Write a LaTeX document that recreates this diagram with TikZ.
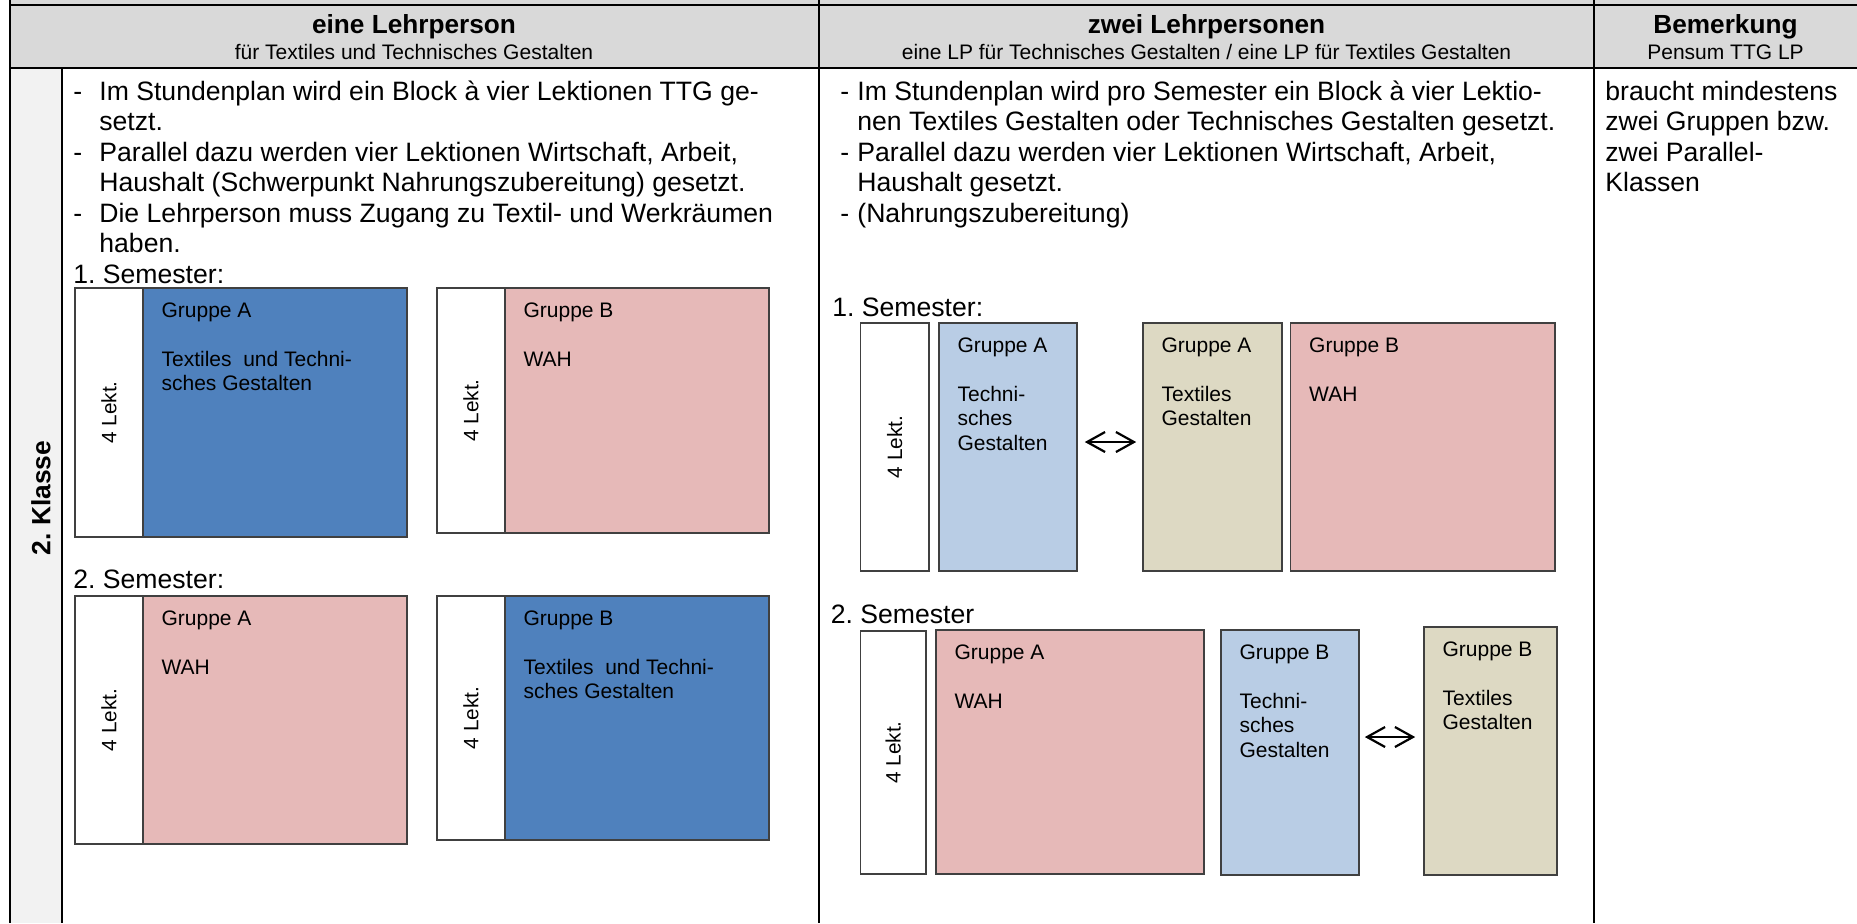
\documentclass[tikz,border=0pt]{standalone}
\usepackage{fontspec}
\setmainfont{Liberation Sans}
\usepackage{tikz}
\usetikzlibrary{positioning}
\usetikzlibrary{calc}
\usetikzlibrary{fit}
\usetikzlibrary{arrows.meta}
\frenchspacing

\definecolor{kopfgrau}{HTML}{D9D9D9}
\definecolor{spaltgrau}{HTML}{F2F2F2}
\definecolor{dunkelblau}{HTML}{4F81BD}
\definecolor{hellblau}{HTML}{B9CDE5}
\definecolor{rosa}{HTML}{E6B9B8}
\definecolor{sand}{HTML}{DDD9C3}

\newcommand{\strichbox}[1]{\makebox[#1][l]{-}}

\tikzstyle{linie}=[line width=1.25pt,black]
\tikzstyle{kopf}=[font=\fontsize{13.1}{15}\selectfont\bfseries,anchor=base,inner sep=0pt]
\tikzstyle{unterkopf}=[font=\fontsize{10.5}{12}\selectfont,anchor=base,inner sep=0pt]
\tikzstyle{fliess}=[font=\fontsize{13.3}{15.25}\selectfont,align=left,anchor=base west,inner sep=0pt]
\tikzstyle{klasse}=[font=\fontsize{13.2}{15}\selectfont\bfseries,rotate=90,inner sep=0pt]
\tikzstyle{lekt}=[draw=black!75,line width=0.8pt,fill=white,inner sep=0pt]
\tikzstyle{feld}=[draw=black!75,line width=0.8pt,inner sep=0pt]
\tikzstyle{feldtext}=[font=\fontsize{10.5}{12.25}\selectfont,align=left,anchor=base west,inner sep=0pt]
\tikzstyle{dreh}=[font=\fontsize{10.4}{12}\selectfont,rotate=90,inner sep=0pt]
\tikzstyle{tausch}=[<->,>={Straight Barb[length=9pt,width=10pt]},line width=1.1pt]

\begin{document}
\begin{tikzpicture}[x=0.5pt,y=-0.5pt]
\useasboundingbox (0,0) rectangle (1857,923);
%Tabelle
\fill[kopfgrau] (10,0) rectangle (1857,68);
\fill[spaltgrau] (10,68) rectangle (62,923);
\draw[linie] (10,5) -- (1857,5);
\draw[linie] (10,68) -- (1857,68);
\draw[linie] (10,0) -- (10,923);
\draw[linie] (62,68) -- (62,923);
\draw[linie] (819,0) -- (819,923);
\draw[linie] (1594,0) -- (1594,923);

\node[kopf] (k1) at (414,33) {eine Lehrperson};
\node[unterkopf] (u1) at (414,59) {für Textiles und Technisches Gestalten};
\node[kopf] (k2) at (1206.5,33) {zwei Lehrpersonen};
\node[unterkopf] (u2) at (1206.5,59) {eine LP für Technisches Gestalten / eine LP für Textiles Gestalten};
\node[kopf] (k3) at (1725.5,33) {Bemerkung};
\node[unterkopf] (u3) at (1725.5,59) {Pensum TTG LP};

\node[klasse] (kl) at (41,498) {2. Klasse};

%Text (base = letzte Zeile)
\node[fliess] (t1) at (73,283) {\strichbox{13pt}Im Stundenplan wird ein Block à vier Lektionen TTG ge-\\
\hspace*{13pt}setzt.\\
\strichbox{13pt}Parallel dazu werden vier Lektionen Wirtschaft, Arbeit,\\
\hspace*{13pt}Haushalt (Schwerpunkt Nahrungszubereitung) gesetzt.\\
\strichbox{13pt}Die Lehrperson muss Zugang zu Textil- und Werkräumen\\
\hspace*{13pt}haben.\\
1. Semester:};
\node[fliess] (s1) at (73,588) {2. Semester:};

\node[fliess] (t2) at (840,222) {\strichbox{8.5pt}Im Stundenplan wird pro Semester ein Block à vier Lektio-\\
\hspace*{8.5pt}nen Textiles Gestalten oder Technisches Gestalten gesetzt.\\
\strichbox{8.5pt}Parallel dazu werden vier Lektionen Wirtschaft, Arbeit,\\
\hspace*{8.5pt}Haushalt gesetzt.\\
\strichbox{8.5pt}(Nahrungszubereitung)};
\node[fliess] (s2) at (832,316) {1. Semester:};
\node[fliess] (s3) at (830.5,623) {2. Semester};

\node[fliess] (t3) at (1605,191.5) {braucht mindestens\\zwei Gruppen bzw.\\zwei Parallel-\\Klassen};

%eine Lehrperson
\node[lekt, fit={(75,288) (143,537)}] (w11) {};
\node[feld, fill=dunkelblau, fit={(143,288) (407,537)}] (a11) {};
\node[dreh] (l11) at (w11.center) {4 Lekt.};
\node[feldtext] (ta11) at ($(a11.north west)+(19,103.5)$) {Gruppe A\\[12.25pt]Textiles\ \ und Techni-\\sches Gestalten};

\node[lekt, fit={(437,288) (505,533)}] (w12) {};
\node[feld, fill=rosa, fit={(505,288) (769,533)}] (b11) {};
\node[dreh] (l12) at (w12.center) {4 Lekt.};
\node[feldtext] (tb11) at ($(b11.north west)+(19,79)$) {Gruppe B\\[12.25pt]WAH};

\node[lekt, fit={(75,596) (143,844)}] (w21) {};
\node[feld, fill=rosa, fit={(143,596) (407,844)}] (a21) {};
\node[dreh] (l21) at (w21.center) {4 Lekt.};
\node[feldtext] (ta21) at ($(a21.north west)+(19,79)$) {Gruppe A\\[12.25pt]WAH};

\node[lekt, fit={(437,596) (505,840)}] (w22) {};
\node[feld, fill=dunkelblau, fit={(505,596) (769,840)}] (b21) {};
\node[dreh] (l22) at (w22.center) {4 Lekt.};
\node[feldtext] (tb21) at ($(b21.north west)+(19,103.5)$) {Gruppe B\\[12.25pt]Textiles\ \ und Techni-\\sches Gestalten};

%zwei Lehrpersonen
\node[lekt, fit={(860.5,323) (929,571)}] (w31) {};
\node[dreh] (l31) at (w31.center) {4 Lekt.};
\node[feld, fill=hellblau, fit={(939,323) (1077,571)}] (tg1) {};
\node[feldtext] (ttg1) at ($(tg1.north west)+(19,128)$) {Gruppe A\\[12.25pt]Techni-\\sches\\Gestalten};
\node[feld, fill=sand, fit={(1143,323) (1282,571)}] (tx1) {};
\node[feldtext] (ttx1) at ($(tx1.north west)+(19,103.5)$) {Gruppe A\\[12.25pt]Textiles\\Gestalten};
\node[feld, fill=rosa, fit={(1290.6,323) (1555,571)}] (wah1) {};
\node[feldtext] (twah1) at ($(wah1.north west)+(19,79)$) {Gruppe B\\[12.25pt]WAH};
\draw[tausch] ($(tg1.east)+(7,-5)$) -- ($(tx1.west)+(-6,-5)$);

\node[lekt, fit={(860.5,631) (926,874)}] (w32) {};
\node[dreh] (l32) at (w32.center) {4 Lekt.};
\node[feld, fill=rosa, fit={(936,630) (1204,874)}] (wah2) {};
\node[feldtext] (twah2) at ($(wah2.north west)+(19,79)$) {Gruppe A\\[12.25pt]WAH};
\node[feld, fill=hellblau, fit={(1221,630) (1359,875)}] (tg2) {};
\node[feldtext] (ttg2) at ($(tg2.north west)+(19,128)$) {Gruppe B\\[12.25pt]Techni-\\sches\\Gestalten};
\node[feld, fill=sand, fit={(1424,627) (1557,875)}] (tx2) {};
\node[feldtext] (ttx2) at ($(tx2.north west)+(19,103.5)$) {Gruppe B\\[12.25pt]Textiles\\Gestalten};
\draw[tausch] ($(tg2.east)+(5,-15.5)$) -- ($(tx2.west)+(-8,-14)$);

\end{tikzpicture}
\end{document}
